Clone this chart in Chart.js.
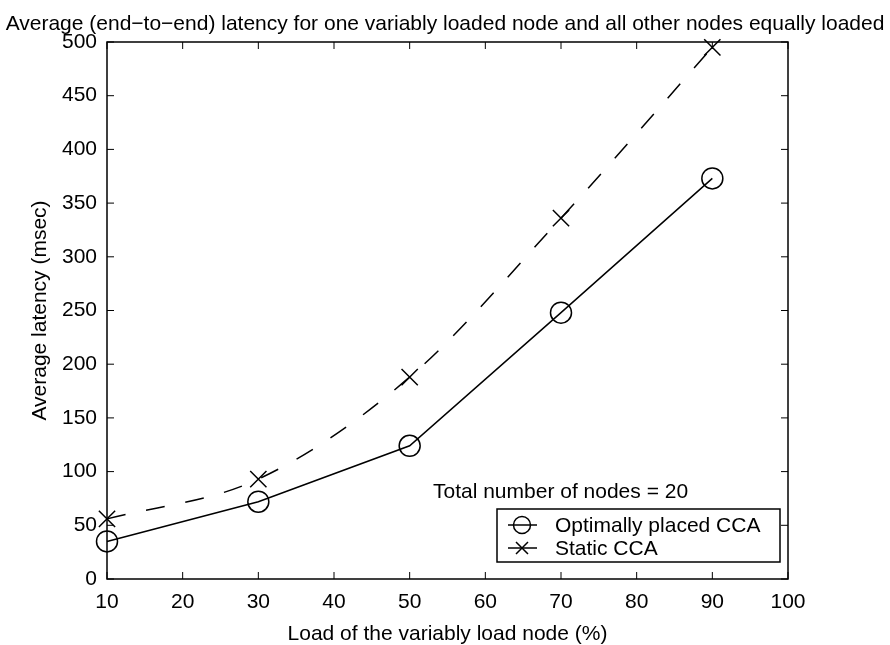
<!DOCTYPE html>
<html><head><meta charset="utf-8">
<script src="https://cdn.jsdelivr.net/npm/chart.js@4"></script>
<style>html,body{margin:0;padding:0;background:#fff}#wrap{width:890px;height:645px}</style>
</head><body><div id="wrap"><canvas id="c" width="890" height="645"></canvas></div>
<script>
const loads = [10, 30, 50, 70, 90];
const optimalLatency = [35, 72, 124, 248, 373];
const staticLatency = [56, 93, 188, 336, 495];
const xTicks = [10, 20, 30, 40, 50, 60, 70, 80, 90, 100];
const yTicks = [0, 50, 100, 150, 200, 250, 300, 350, 400, 450, 500];
const titleText = 'Average (end\u2212to\u2212end) latency for one variably loaded node and all other nodes equally loaded';
const xTitle = 'Load of the variably load node (%)';
const yTitle = 'Average latency (msec)';
const noteText = 'Total number of nodes = 20';
const seriesNames = ['Optimally placed CCA', 'Static CCA'];

const FONT = 'Liberation Sans, Arial, Helvetica, sans-serif';
const FS = 21;

const decor = {
  id: 'decor',
  afterDraw(chart) {
    const ctx = chart.ctx, a = chart.chartArea;
    const xs = chart.scales.x, ys = chart.scales.y;
    ctx.save();
    ctx.strokeStyle = '#000'; ctx.lineWidth = 1.5;
    ctx.strokeRect(a.left, a.top, a.right - a.left, a.bottom - a.top);
    ctx.lineWidth = 1;
    const tl = 7;
    ctx.beginPath();
    xTicks.forEach(v => {
      const p = xs.getPixelForValue(v);
      ctx.moveTo(p, a.bottom); ctx.lineTo(p, a.bottom - tl);
      ctx.moveTo(p, a.top); ctx.lineTo(p, a.top + tl);
    });
    yTicks.forEach(v => {
      const p = ys.getPixelForValue(v);
      ctx.moveTo(a.left, p); ctx.lineTo(a.left + tl, p);
      ctx.moveTo(a.right, p); ctx.lineTo(a.right - tl, p);
    });
    ctx.stroke();
    ctx.fillStyle = '#000';
    ctx.textBaseline = 'middle';
    ctx.textAlign = 'center';
    ctx.font = FS + 'px ' + FONT;
    ctx.fillText(titleText, 445, 24);
    ctx.fillText(xTitle, (a.left + a.right) / 2, 634);
    ctx.save();
    ctx.translate(40, (a.top + a.bottom) / 2);
    ctx.rotate(-Math.PI / 2);
    ctx.fillText(yTitle, 0, 0);
    ctx.restore();
    ctx.textAlign = 'left';
    ctx.fillText(noteText, 433, 492);
    const lx = 497, ly = 509, lw = 283, lh = 53;
    ctx.fillStyle = '#fff';
    ctx.fillRect(lx, ly, lw, lh);
    ctx.lineWidth = 1.5; ctx.strokeStyle = '#000';
    ctx.strokeRect(lx, ly, lw, lh);
    const rows = [525, 548];
    chart.data.datasets.forEach((ds, i) => {
      const y = rows[i];
      ctx.lineWidth = 1.5;
      ctx.beginPath(); ctx.moveTo(508, y); ctx.lineTo(537, y); ctx.stroke();
      ctx.beginPath();
      if (ds.pointStyle === 'circle') {
        ctx.arc(522, y, 8.5, 0, Math.PI * 2);
      } else {
        ctx.moveTo(516, y - 6); ctx.lineTo(528, y + 6);
        ctx.moveTo(528, y - 6); ctx.lineTo(516, y + 6);
      }
      ctx.stroke();
      ctx.fillStyle = '#000';
      ctx.fillText(ds.label, 555, y + 1);
    });
    ctx.restore();
  }
};

new Chart(document.getElementById('c'), {
  type: 'line',
  data: {
    datasets: [
      {
        label: seriesNames[0],
        data: loads.map((x, i) => ({x, y: optimalLatency[i]})),
        borderColor: '#000', borderWidth: 1.5, tension: 0,
        pointStyle: 'circle', pointRadius: 10.5, pointBorderWidth: 1.5,
        pointBackgroundColor: 'rgba(0,0,0,0)', pointBorderColor: '#000'
      },
      {
        label: seriesNames[1],
        data: loads.map((x, i) => ({x, y: staticLatency[i]})),
        borderColor: '#000', borderWidth: 1.5, borderDash: [19, 21],
        cubicInterpolationMode: 'monotone',
        pointStyle: 'crossRot', pointRadius: 11.5, pointBorderWidth: 1.5,
        pointBackgroundColor: 'rgba(0,0,0,0)', pointBorderColor: '#000'
      }
    ]
  },
  options: {
    responsive: false, animation: false,
    clip: false,
    layout: { padding: { top: 42, right: 102, left: 0, bottom: 0 } },
    plugins: { legend: { display: false }, title: { display: false }, tooltip: { enabled: false } },
    scales: {
      x: {
        type: 'linear', min: 10, max: 100,
        afterBuildTicks: s => { s.ticks = xTicks.map(v => ({value: v})); },
        afterFit: s => { s.height = 66; },
        grid: { display: false, drawTicks: false },
        border: { display: false },
        ticks: { color: '#000', font: { family: FONT, size: FS }, padding: 11, maxRotation: 0, autoSkip: false }
      },
      y: {
        type: 'linear', min: 0, max: 500,
        afterBuildTicks: s => { s.ticks = yTicks.map(v => ({value: v})); },
        afterFit: s => { s.width = 107; },
        grid: { display: false, drawTicks: false },
        border: { display: false },
        ticks: { color: '#000', font: { family: FONT, size: FS }, padding: 10, autoSkip: false }
      }
    }
  },
  plugins: [decor]
});
</script></body></html>
